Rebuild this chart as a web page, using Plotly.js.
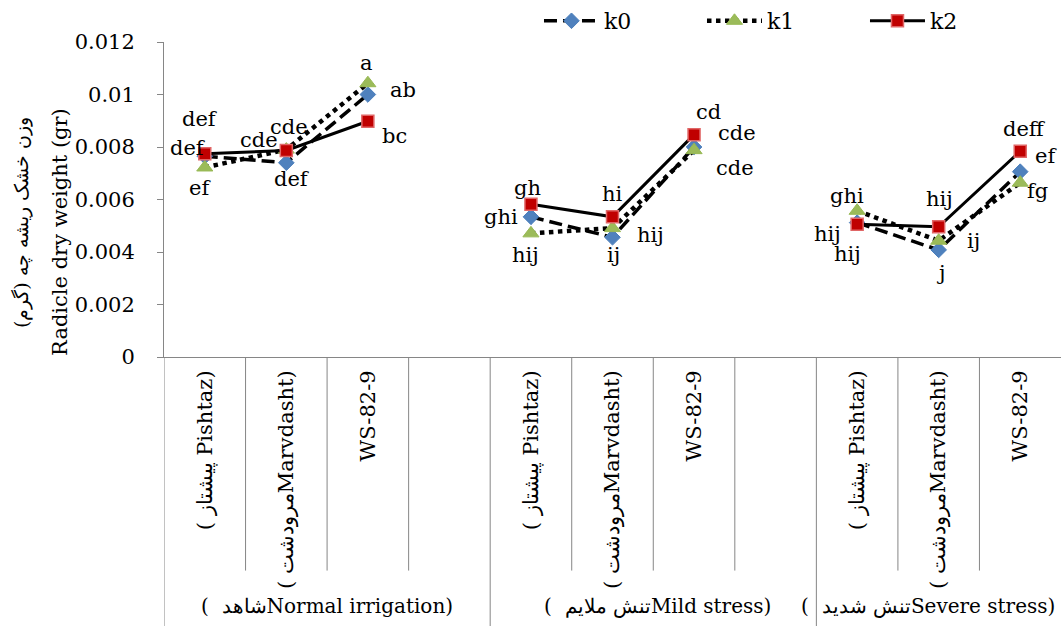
<!DOCTYPE html>
<html>
<head>
<meta charset="utf-8">
<script src="https://cdn.plot.ly/plotly-3.0.1.min.js"></script>
<style>
html,body{margin:0;padding:0;background:#fff;}
#chart{width:1061px;height:626px;}
</style>
</head>
<body>
<div id="chart"></div>
<script>
// ---- data ----
var groups = ['(  شاهدNormal irrigation)', '(  تنش ملایمMild stress)', '(  تنش شدیدSevere stress)'];
var cultivars = ['( پیشتاز Pishtaz)', '( مرودشتMarvdasht)', 'WS-82-9'];
var seriesNames = ['k0', 'k1', 'k2'];
var k0 = [0.00765, 0.00740, 0.01000, 0.00534, 0.00456, 0.00800, 0.00512, 0.00408, 0.00706];
var k1 = [0.00722, 0.00790, 0.01043, 0.00471, 0.00491, 0.00788, 0.00557, 0.00443, 0.00664];
var k2 = [0.00774, 0.00787, 0.00898, 0.00582, 0.00534, 0.00847, 0.00506, 0.00496, 0.00784];
var k0Labels = ['def', 'def', 'ab', 'ghi', 'ij', 'cde', 'hij', 'j', 'ef'];
var k1Labels = ['ef', 'cde', 'a', 'hij', 'hij', 'cde', 'ghi', 'ij', 'fg'];
var k2Labels = ['def', 'cde', 'bc', 'gh', 'hi', 'cd', 'hij', 'hij', 'deff'];
var yTickVals = [0, 0.002, 0.004, 0.006, 0.008, 0.01, 0.012];
var yTickText = ['0', '0.002', '0.004', '0.006', '0.008', '0.01', '0.012'];

var off0 = [[-17,-8],[6,16],[35,-5],[-30,0],[1,18],[43,-14],[-10,31],[2,23],[26,-16]];
var off1 = [[-5,21],[3,-23],[-1,-20],[-5,22],[38,7],[41,18],[-10,-15],[35,0],[17,8]];
var off2 = [[-5,-35],[-27,-10],[27,15],[-3,-16],[0,-23],[14,-23],[-30,10],[1,-28],[4,-22]];

var FONT = 'DejaVu Serif';

var slotX = [], tickText = [], pointX = [], groupSlots = [];
var slot = 0;
groups.forEach(function (g, gi) {
  var start = slot;
  cultivars.forEach(function (c) {
    slotX.push(slot); tickText.push(c); pointX.push(slot); slot++;
  });
  if (gi < groups.length - 1) { slotX.push(slot); tickText.push(''); slot++; }
  groupSlots.push([start, slot - 1]);
});
var nSlots = slot;

function expand(vals) {
  var out = [];
  for (var i = 0; i < nSlots; i++) out.push(null);
  vals.forEach(function (v, i) { out[pointX[i]] = v; });
  return out;
}
var xs = slotX.slice();

var traces = [
  {x: xs, y: expand(k0), name: 'k0', type: 'scatter', mode: 'lines+markers', connectgaps: false,
   line: {color: '#000', width: 3.5, dash: '13px,6px'},
   marker: {symbol: 'diamond', size: 12, color: '#4F81BD', line: {color: '#4A7EBB', width: 1}}},
  {x: xs, y: expand(k1), name: 'k1', type: 'scatter', mode: 'lines+markers', connectgaps: false,
   line: {color: '#000', width: 4.5, dash: 'dot'},
   marker: {symbol: 'triangle-up', size: 14, color: '#9BBB59', line: {color: '#98B954', width: 1}}},
  {x: xs, y: expand(k2), name: 'k2', type: 'scatter', mode: 'lines+markers', connectgaps: false,
   line: {color: '#000', width: 3},
   marker: {symbol: 'square', size: 12, color: '#C00000', line: {color: '#E06666', width: 1.5}}}
];

var annotations = [];
[[k0, k0Labels, off0], [k1, k1Labels, off1], [k2, k2Labels, off2]].forEach(function (s) {
  s[0].forEach(function (v, i) {
    annotations.push({x: pointX[i], y: v, xref: 'x', yref: 'y', text: s[1][i], showarrow: false,
      xshift: s[2][i][0], yshift: -s[2][i][1], xanchor: 'center', yanchor: 'middle',
      font: {family: FONT, size: 21, color: '#000'}});
  });
});

// group labels (last one right-aligned so it stays inside the picture)
var groupLabelX = [1.5, 5.55, 10.45];
var groupAnchor = ['center', 'center', 'right'];
groups.forEach(function (g, gi) {
  annotations.push({x: groupLabelX[gi], y: -0.79, xref: 'x', yref: 'paper', text: g, showarrow: false,
    xanchor: groupAnchor[gi], yanchor: 'middle', font: {family: FONT, size: 20, color: '#000'}});
});
annotations.push({x: -0.116, y: 0.397, xref: 'paper', yref: 'paper', text: 'Radicle dry weight (gr)',
  textangle: -90, showarrow: false, xanchor: 'center', yanchor: 'middle',
  font: {family: FONT, size: 21, color: '#000'}});
annotations.push({x: -0.158, y: 0.426, xref: 'paper', yref: 'paper', text: 'وزن خشک ریشه چه (گرم)',
  textangle: -90, showarrow: false, xanchor: 'center', yanchor: 'middle',
  font: {family: FONT, size: 19, color: '#000'}});

var shapes = [];
var lineStyle = {color: '#868686', width: 1};
groupSlots.forEach(function (gs, gi) {
  for (var b = gs[0] + 0.5; b < gs[1]; b += 1) {
    shapes.push({type: 'line', xref: 'x', yref: 'paper', x0: b, x1: b, y0: 0, y1: -0.678, line: lineStyle});
  }
  shapes.push({type: 'line', xref: 'x', yref: 'paper', x0: gs[0] - 0.5, x1: gs[0] - 0.5, y0: 0, y1: -0.86, line: lineStyle});
});

var layout = {
  width: 1061, height: 626,
  margin: {l: 164, r: 0, t: 40, b: 269},
  paper_bgcolor: '#fff', plot_bgcolor: '#fff',
  font: {family: FONT, size: 21, color: '#000'},
  showlegend: true,
  legend: {orientation: 'h', xref: 'container', yref: 'container', x: 0.508, y: 1.0,
    xanchor: 'left', yanchor: 'top', font: {family: FONT, size: 22, color: '#000'},
    entrywidth: 93, entrywidthmode: 'pixels', itemwidth: 55, bgcolor: 'rgba(0,0,0,0)'},
  xaxis: {range: [-0.5, nSlots - 0.5], tickvals: slotX, ticktext: tickText, tickangle: -90,
    ticks: '', showgrid: false, zeroline: false, showline: true, linecolor: '#868686', linewidth: 1,
    tickfont: {family: FONT, size: 21, color: '#000'}, ticklabelstandoff: 4, fixedrange: true},
  yaxis: {range: [0, 0.012], tickvals: yTickVals, ticktext: yTickText, ticks: 'outside', ticklen: 6,
    tickcolor: '#868686', showgrid: false, zeroline: false, showline: true, linecolor: '#868686', linewidth: 1,
    tickfont: {family: FONT, size: 21, color: '#000'}, ticklabelstandoff: 18, fixedrange: true},
  annotations: annotations,
  shapes: shapes
};

Plotly.newPlot('chart', traces, layout, {displayModeBar: false, staticPlot: true});
</script>
</body>
</html>
